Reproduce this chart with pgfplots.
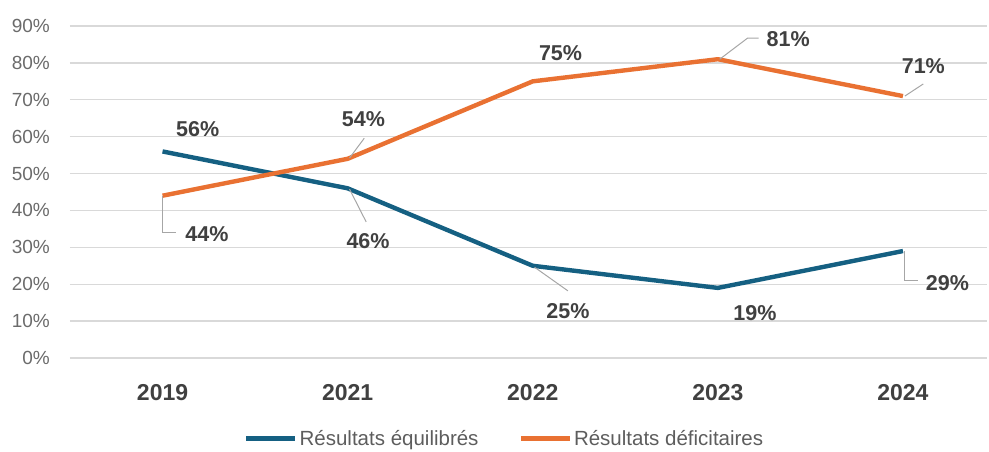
\documentclass[border=0pt]{standalone}
\usepackage{pgfplots}
\pgfplotsset{compat=1.18}
\usepackage{fontspec}
\setmainfont{Liberation Sans}
\definecolor{cblue}{HTML}{156082}
\definecolor{corange}{HTML}{E97132}
\definecolor{cgrid}{HTML}{D9D9D9}
\definecolor{clab}{HTML}{404040}
\definecolor{cytick}{HTML}{6B6B6B}
\definecolor{clead}{HTML}{A6A6A6}
\begin{document}
\begin{tikzpicture}[x=1pt,y=1pt]
\useasboundingbox (0,0) rectangle (989,451);
\begin{axis}[
  at={(70pt,93pt)}, anchor=south west,
  scale only axis, width=917pt, height=332pt,
  xmin=-0.5, xmax=4.454, ymin=0, ymax=90,
  clip=false,
  axis line style={draw=none},
  major tick length=0pt,
  xtick={0,1,2,3,4},
  xticklabels={2019,2021,2022,2023,2024},
  ytick={0,10,20,30,40,50,60,70,80,90},
  yticklabels={0\%,10\%,20\%,30\%,40\%,50\%,60\%,70\%,80\%,90\%},
  ymajorgrids, grid style={cgrid, line width=1.4pt},
  yticklabel style={inner sep=0pt, anchor=east, xshift=-20pt, font=\fontsize{19}{22}\selectfont, text=cytick},
  xticklabel style={inner sep=0pt, anchor=center, yshift=-34.5pt, font=\fontsize{23}{26}\selectfont\bfseries, text=clab},
  legend style={at={(0.474,-0.243)}, anchor=center, draw=none, fill=none,
    legend columns=2, font=\fontsize{20.5}{24}\selectfont, text=clab!85,
    /tikz/every even column/.append style={column sep=38pt},
    inner sep=0pt},
  legend image code/.code={\draw[#1, line width=4.5pt] (0pt,0pt) -- (49pt,0pt);},
  legend cell align=left,
]
\addplot[cblue, line width=4.4pt, line join=round] coordinates {(0,56) (1,46) (2,25) (3,19) (4,29)};
\addlegendentry{Résultats équilibrés}
\addplot[corange, line width=4.4pt, line join=round] coordinates {(0,44) (1,54) (2,75) (3,81) (4,71)};
\addlegendentry{Résultats déficitaires}

\tikzset{lbl/.style={anchor=center, inner sep=0pt, font=\fontsize{21.5}{24}\selectfont\bfseries, text=clab},
         lead/.style={clead, line width=1pt}}
% leaders
\draw[lead] (axis cs:0,44) -- (axis cs:0,34.1) -- (axis cs:0.075,34.1);
\draw[lead] (axis cs:1.01,54.2) -- (axis cs:1.09,59.6);
\draw[lead] (axis cs:1.01,45.8) -- (axis cs:1.10,36.9);
\draw[lead] (axis cs:2.01,24.6) -- (axis cs:2.19,18.2);
\draw[lead] (axis cs:3.01,81) -- (axis cs:3.16,86.7) -- (axis cs:3.22,86.7);
\draw[lead] (axis cs:4.01,29) -- (axis cs:4.01,20.9) -- (axis cs:4.08,20.9);
\draw[lead] (axis cs:4.01,71) -- (axis cs:4.11,74.3);
% labels
\node[lbl] at (axis cs:0.19,62.0) {56\%};
\node[lbl] at (axis cs:0.24,33.5) {44\%};
\node[lbl] at (axis cs:1.085,64.8) {54\%};
\node[lbl] at (axis cs:1.11,31.6) {46\%};
\node[lbl] at (axis cs:2.15,82.7) {75\%};
\node[lbl] at (axis cs:2.19,12.6) {25\%};
\node[lbl] at (axis cs:3.2,12.2) {19\%};
\node[lbl] at (axis cs:3.38,86.4) {81\%};
\node[lbl] at (axis cs:4.11,79.1) {71\%};
\node[lbl] at (axis cs:4.24,20.4) {29\%};
\end{axis}
\end{tikzpicture}
\end{document}
